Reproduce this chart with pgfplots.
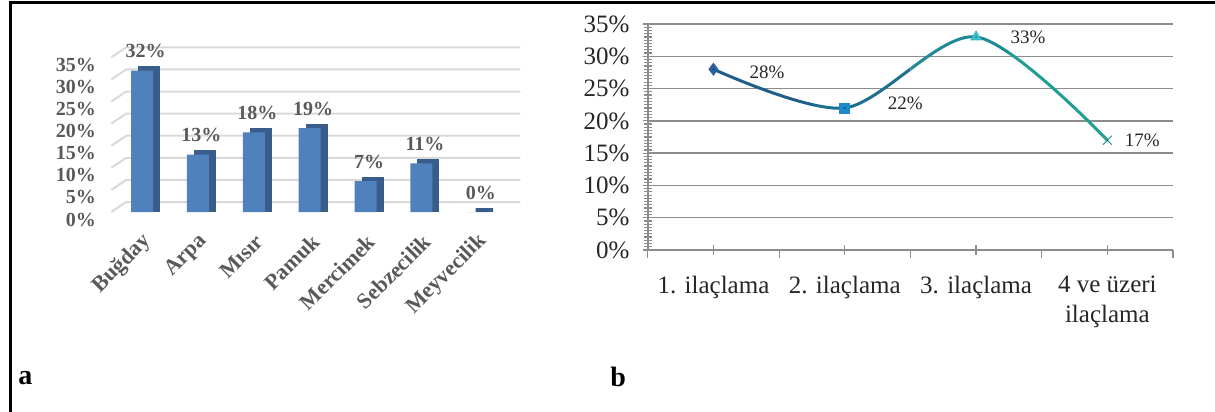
\documentclass[border=0pt]{standalone}
\usepackage{fontspec}
\setmainfont{Liberation Serif}
\usepackage{pgfplots}
\pgfplotsset{compat=1.18}
\usepackage{pgfplotstable}
\definecolor{barfront}{HTML}{4F81BD}
\definecolor{barside}{HTML}{385D8A}
\definecolor{lblgray}{HTML}{595959}
\definecolor{wallgrid}{HTML}{D9D9D9}
\definecolor{rgrid}{HTML}{8C8C8C}
\definecolor{c1}{HTML}{1F5E8A}
\definecolor{c2}{HTML}{1D6F92}
\definecolor{c3}{HTML}{1D8A96}
\definecolor{c4}{HTML}{1F9F93}
\definecolor{m1}{HTML}{2A62A0}
\definecolor{m2}{HTML}{1E88C8}
\definecolor{m3}{HTML}{3BBEC6}
\definecolor{m4}{HTML}{3A9E97}
\pgfplotstableread{
x y
0 32
1 13
2 18
3 19
4 7
5 11
6 0
}\cropdata
\pgfplotstableread{
x y ldx ldy cls
1 28 26.75 -1.5 a
2 22 30.3 2.45 b
3 33 26 0 c
4 17 17.5 -0.2 d
}\spraydata
\begin{document}
\begin{tikzpicture}
\useasboundingbox (0,0) rectangle (607.5pt,206pt);
\draw[line width=1.5pt] (4.5pt,204.5pt) -- (607.5pt,204.5pt);
\draw[line width=1.5pt] (5pt,205.25pt) -- (5pt,0pt);
\node[anchor=base west, font=\fontsize{14}{16}\selectfont\bfseries, inner sep=0pt] at (9pt,13.5pt) {a};
\node[anchor=base west, font=\fontsize{14}{16}\selectfont\bfseries, inner sep=0pt] at (305pt,12.7pt) {b};

\begin{axis}[
  at={(55.65pt,100pt)}, anchor=south west,
  scale only axis, width=197pt, height=77.35pt,
  xmin=-0.55, xmax=6.5, ymin=0, ymax=35,
  clip=false,
  axis line style={draw=none},
  major tick length=0pt,
  tick style={draw=none},
  xtick={0,...,6},
  xticklabels={Buğday,Arpa,Mısır,Pamuk,Mercimek,Sebzecilik,Meyvecilik},
  ytick={0,5,...,35},
  yticklabel={\pgfmathprintnumber{\tick}\%},
  /pgf/number format/assume math mode=true,
  tick label style={font=\fontsize{10}{12}\selectfont\bfseries, text=lblgray},
  yticklabel style={anchor=east, xshift=-4.2pt, yshift=-3.75pt},
  xticklabel style={xshift=3pt, yshift=-13pt, rotate=45, anchor=east, inner sep=0pt, font=\fontsize{11}{13}\selectfont\bfseries},
]
\pgfplotsinvokeforeach{0,5,10,15,20,25,30,35}{
  \draw[wallgrid, line width=1pt] (axis cs:-0.55,#1) -- ++(7.5pt,5pt) -- ([shift={(7.5pt,5pt)}]axis cs:6.5,#1);
}
\addplot[ybar, bar width=8.75pt, bar shift=3.5pt, yshift=1.125pt, fill=barside, draw=barside, line width=2.25pt, line join=miter]
  table[x=x,y=y]{\cropdata};
\addplot[ybar, bar width=11pt, bar shift=0pt, fill=barfront, draw=none,
  point meta=y,
  nodes near coords={\pgfmathprintnumber{\pgfplotspointmeta}\%},
  every node near coord/.append style={anchor=center, yshift=9.75pt, xshift=1.75pt, font=\fontsize{10}{12}\selectfont\bfseries, text=lblgray}]
  table[x=x,y=y]{\cropdata};
\end{axis}

\begin{axis}[
  at={(323.9pt,81pt)}, anchor=south west,
  scale only axis, width=262.6pt, height=113pt,
  xmin=0.5, xmax=4.5, ymin=0, ymax=35,
  clip=false,
  axis lines*=left,
  axis line style={rgrid, line width=0.75pt},
  xtick={1,2,3,4},
  xticklabels={1. ilaçlama, 2. ilaçlama, 3. ilaçlama, {4 ve üzeri\\ilaçlama}},
  minor xtick={0.5,1.5,2.5,3.5,4.5},
  ytick={0,5,...,35},
  minor y tick num=9,
  ymajorgrids, major grid style={rgrid, line width=0.75pt},
  tick align=center,
  major tick length=5pt, minor tick length=4pt,
  tick style={rgrid, line width=0.6pt},
  minor x tick style={yshift=-2pt},
  yticklabel={\pgfmathprintnumber{\tick}\%},
  /pgf/number format/assume math mode=true,
  tick label style={font=\fontsize{12.5}{15}\selectfont, text=black!85},
  yticklabel style={xshift=-3.2pt},
  xticklabel style={align=center, anchor=north, yshift=-7pt},
]
\begin{scope}
\clip (axis cs:0.5,-5) rectangle (axis cs:1.75,40);
\addplot[smooth, line width=1.5pt, color=c1, mark=none] table[x=x,y=y]{\spraydata};
\end{scope}
\begin{scope}
\clip (axis cs:1.75,-5) rectangle (axis cs:2.5,40);
\addplot[smooth, line width=1.5pt, color=c2, mark=none] table[x=x,y=y]{\spraydata};
\end{scope}
\begin{scope}
\clip (axis cs:2.5,-5) rectangle (axis cs:3.25,40);
\addplot[smooth, line width=1.5pt, color=c3, mark=none] table[x=x,y=y]{\spraydata};
\end{scope}
\begin{scope}
\clip (axis cs:3.25,-5) rectangle (axis cs:4.5,40);
\addplot[smooth, line width=1.5pt, color=c4, mark=none] table[x=x,y=y]{\spraydata};
\end{scope}
\addplot[scatter, only marks, point meta=explicit symbolic,
  scatter/classes={
    a={mark=diamond*, mark size=3pt, draw=m1, fill=m1},
    b={mark=square*, mark size=2.5pt, draw=m2, fill=m2},
    c={mark=triangle*, mark size=3pt, draw=m3, fill=m3},
    d={mark=x, mark size=3.2pt, draw=m4, line width=0.5pt}}]
  table[x=x,y=y,meta=cls]{\spraydata};
\addplot[draw=none, mark=*, mark size=0.01pt, mark options={draw=none, fill=none},
  point meta=y,
  nodes near coords={\pgfmathprintnumber{\pgfplotspointmeta}\%},
  visualization depends on={\thisrow{ldx} \as \ldx},
  visualization depends on={\thisrow{ldy} \as \ldy},
  every node near coord/.append style={anchor=center, xshift=\ldx pt, yshift=\ldy pt, font=\fontsize{9.5}{11}\selectfont, text=black!85}]
  table[x=x,y=y]{\spraydata};
\end{axis}
\end{tikzpicture}
\end{document}
